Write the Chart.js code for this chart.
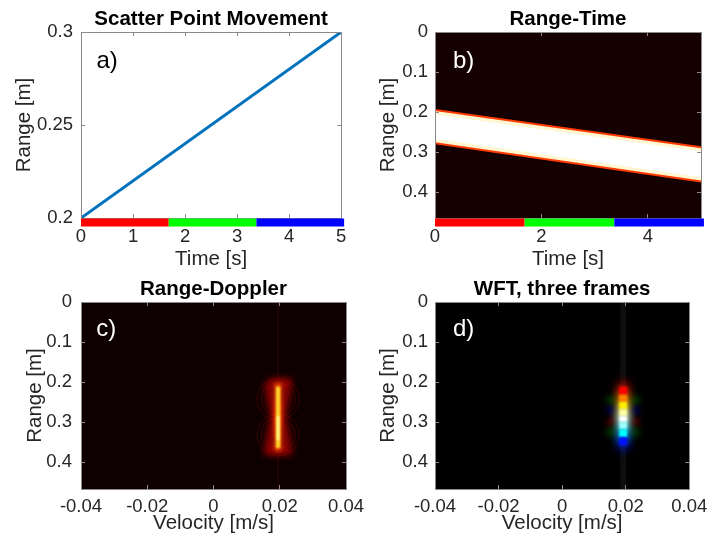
<!DOCTYPE html>
<html>
<head>
<meta charset="utf-8">
<script src="https://cdn.jsdelivr.net/npm/chart.js@4/dist/chart.umd.min.js"></script>
<style>
html, body { margin:0; padding:0; background:#fff; overflow:hidden; }
#fig { position:relative; width:720px; height:548px; }
#fig canvas { position:absolute; }
</style>
</head>
<body>
<div id="fig">
	<canvas id="pa" width="360" height="270" style="left:0;top:0"></canvas>
	<canvas id="pb" width="360" height="270" style="left:360px;top:0"></canvas>
	<canvas id="pd" width="360" height="278" style="left:360px;top:270px"></canvas>
	<canvas id="pc" width="380" height="278" style="left:0;top:270px"></canvas>
</div>
<script>
// a) scatter point movement
var moveTime = [0, 5];
var moveRange = [0.2, 0.3];
var timeTicksA = [0, 1, 2, 3, 4, 5];
var rangeTicksA = [0.2, 0.25, 0.3];
// frames shown as coloured bar under the time axis
var frameEdges = [0, 1.685, 3.37, 5.055];
var frameColors = ['#ff0000', '#00ff00', '#0000ff'];
// b) range-time band
var rtTime = [0, 5];
var rtEdgeTop = [0.195, 0.288];
var rtEdgeBottom = [0.278, 0.374];
var rtCoreTop = [0.206, 0.299];
var rtCoreBottom = [0.267, 0.363];
var timeTicksB = [0, 2, 4];
var rangeTicks = [0, 0.1, 0.2, 0.3, 0.4];
// c) range-doppler
var velTicks = [-0.04, -0.02, 0, 0.02, 0.04];
var rdGhostV = [0.0195, 0.0195];
var rdGhostR = [0, 0.4675];
var rdGlowV = [0.0167, 0.0223, 0.0204, 0.0223, 0.0167, 0.0186, 0.0167];
var rdGlowR = [0.202, 0.202, 0.287, 0.372, 0.372, 0.287, 0.202];
var rdOuterV = [0.0195, 0.0195];
var rdOuterR = [0.203, 0.372];
var rdCoreV = [0.0195, 0.0195];
var rdCoreR = [0.212, 0.365];
var rdHotV = [0.0195, 0.0195];
var rdHotR = [0.285, 0.345];
var rdRingV = [0.0195, 0.0195, 0.0195, 0.0195, 0.0195, 0.0195, 0.0195, 0.0195, 0.0195, 0.0195];
var rdRingR = [0.243, 0.243, 0.243, 0.243, 0.243, 0.332, 0.332, 0.332, 0.332, 0.332];
// d) WFT, three frames
var wftGhostV = [0.0192, 0.0192];
var wftGhostR = [0, 0.4675];
var wftCoreV = [0.0192, 0.0192, 0.0192, 0.0192, 0.0192, 0.0192, 0.0192, 0.0192, 0.0192];
var wftCoreR = [0.212, 0.232, 0.25, 0.268, 0.285, 0.3, 0.318, 0.338, 0.358];
var wftSideV = [0.0152, 0.0232, 0.0152, 0.0232, 0.0152, 0.0232, 0.0152, 0.0232];
var wftSideR = [0.245, 0.245, 0.27, 0.27, 0.3, 0.3, 0.325, 0.325];

var wftColors = ['#ff0000', '#ff8000', '#ffee00', '#ffffa0', '#ffffff', '#a0ffff', '#00ffff', '#0010ff'];
var wftSideColors = ['#007000', '#007000', '#000090', '#000090', '#900000', '#900000', '#007000', '#007000'];

var fontFamily = "'Liberation Sans', Arial, Helvetica, sans-serif";
var textColor = '#262626';
var boxColor = '#8a8a8a';
var tickLen = -4;

function pts(xs, ys) {
	return xs.map(function (x, i) { return {x: x, y: ys[i]}; });
}
function setTicks(list) {
	return function (scale) {
		scale.ticks = list.map(function (v) { return {value: v}; });
	};
}
function inward() {
	return {drawOnChartArea: false, drawTicks: true, tickLength: tickLen, color: boxColor, z: 1};
}
//plot area background (heat map floor)
var areaBgPlugin = {
	id: 'areaBg',
	beforeDraw: function (chart, args, opts) {
		if (!opts.color) return;
		var a = chart.chartArea;
		chart.ctx.fillStyle = opts.color;
		chart.ctx.fillRect(a.left, a.top, a.right - a.left, a.bottom - a.top);
	}
};
//soft glow for single datasets
var blurPlugin = {
	id: 'blur',
	beforeDatasetDraw: function (chart, args) {
		var b = chart.data.datasets[args.index].blur;
		if (b) {
			chart.ctx.save();
			chart.ctx.filter = 'blur(' + b + 'px)';
		}
	},
	afterDatasetDraw: function (chart, args) {
		if (chart.data.datasets[args.index].blur) chart.ctx.restore();
	}
};
var frameBarPlugin = {
	id: 'frameBar',
	afterDraw: function (chart, args, opts) {
		if (!opts.edges) return;
		var ctx = chart.ctx, xs = chart.scales.x, top = chart.chartArea.bottom + 0.5;
		for (var i = 0; i < opts.colors.length; i++) {
			var x0 = xs.getPixelForValue(opts.edges[i]);
			var x1 = xs.getPixelForValue(opts.edges[i + 1]);
			ctx.fillStyle = opts.colors[i];
			ctx.fillRect(x0, top, x1 - x0, 8);
		}
	}
};
var panelLabelPlugin = {
	id: 'panelLabel',
	afterDraw: function (chart, args, opts) {
		var ctx = chart.ctx, a = chart.chartArea;
		ctx.save();
		ctx.font = '24px ' + fontFamily;
		ctx.fillStyle = opts.color;
		ctx.textBaseline = 'alphabetic';
		ctx.fillText(opts.text, a.left + opts.dx, a.top + opts.dy);
		ctx.restore();
	}
};

function buildScales(p) {
	var tickFont = {family: fontFamily, size: 18.5, lineHeight: 1};
	var labelFont = {family: fontFamily, size: 20.5, lineHeight: 1};
	return {
		x: {
			type: 'linear', position: 'bottom', min: p.xMin, max: p.xMax,
			afterBuildTicks: setTicks(p.xTicks),
			afterFit: function (s) { s.height = p.h - p.bottom; },
			grid: inward(), border: {color: boxColor, z: 1},
			ticks: {autoSkip: false, maxRotation: 0, padding: p.xGap - tickLen, color: textColor, font: tickFont,
				callback: function (v) { return String(v); }},
			title: {display: true, text: p.xLabel, color: textColor, font: labelFont, padding: {top: 0, bottom: p.xLabelPad}}
		},
		xTop: {
			type: 'linear', position: 'top', min: p.xMin, max: p.xMax,
			afterBuildTicks: setTicks(p.xTicks),
			afterFit: function (s) { s.height = p.top; },
			grid: inward(), border: {color: boxColor, z: 1},
			ticks: {display: false},
			title: {display: true, text: p.title, color: '#000',
				font: {family: fontFamily, size: 20.5, weight: 'bold', lineHeight: 1}, padding: {top: 9, bottom: 0}}
		},
		y: {
			type: 'linear', position: 'left', min: p.yMin, max: p.yMax, reverse: p.reverse,
			afterBuildTicks: setTicks(p.yTicks),
			afterFit: function (s) { s.width = p.left; },
			grid: inward(), border: {color: boxColor, z: 1},
			ticks: {autoSkip: false, padding: p.yGap - tickLen, color: textColor, font: tickFont,
				callback: function (v) { return String(v); }},
			title: {display: true, text: 'Range [m]', color: textColor, font: labelFont, padding: {top: p.yLabelPad, bottom: 0}}
		},
		yRight: {
			type: 'linear', position: 'right', min: p.yMin, max: p.yMax, reverse: p.reverse,
			afterBuildTicks: setTicks(p.yTicks),
			afterFit: function (s) { s.width = p.w - p.right; },
			grid: inward(), border: {color: boxColor, z: 1},
			ticks: {display: false}
		}
	};
}

function makePanel(id, p, datasets) {
	return new Chart(document.getElementById(id), {
		type: 'line',
		data: {datasets: datasets},
		options: {
			responsive: false,
			animation: false,
			events: [],
			layout: {padding: 0, autoPadding: false},
			plugins: {
				legend: {display: false},
				tooltip: {enabled: false},
				areaBg: {color: p.bg},
				frameBar: p.frames || {},
				panelLabel: p.label
			},
			scales: buildScales(p)
		},
		plugins: [areaBgPlugin, blurPlugin, frameBarPlugin, panelLabelPlugin]
	});
}

function vline(xs, ys, color, width, blur) {
	return {data: pts(xs, ys), borderColor: color, borderWidth: width, pointRadius: 0, borderCapStyle: 'butt', blur: blur || 0};
}

// a)
makePanel('pa', {
	w: 360, h: 270, left: 81, right: 346, top: 32, bottom: 218,
	xMin: 0, xMax: 5, xTicks: timeTicksA, yMin: 0.2, yMax: 0.3, yTicks: rangeTicksA, reverse: false,
	xGap: 9.6, yGap: 8, xLabelPad: 0, yLabelPad: 13.7,
	xLabel: 'Time [s]', title: 'Scatter Point Movement',
	frames: {edges: frameEdges, colors: frameColors},
	label: {text: 'a)', color: '#000', dx: 15.5, dy: 35.5}
}, [
	{data: pts(moveTime, moveRange), borderColor: '#0072bd', borderWidth: 3, pointRadius: 0}
]);

// b) datasets listed top-most first
makePanel('pb', {
	w: 360, h: 270, left: 75, right: 341, top: 32, bottom: 218,
	xMin: 0, xMax: 5, xTicks: timeTicksB, yMin: 0, yMax: 0.465, yTicks: rangeTicks, reverse: true,
	xGap: 9.6, yGap: 7, xLabelPad: 0, yLabelPad: 18.4,
	xLabel: 'Time [s]', title: 'Range-Time', bg: '#140000',
	frames: {edges: frameEdges, colors: frameColors},
	label: {text: 'b)', color: '#fff', dx: 18, dy: 35.5}
}, [
	{data: pts(rtTime, rtCoreTop), borderWidth: 0, pointRadius: 0},
	{data: pts(rtTime, rtCoreBottom), borderWidth: 0, pointRadius: 0, fill: '-1', backgroundColor: '#ffffff'},
	{data: pts(rtTime, rtEdgeTop), borderColor: '#ff3a00', borderWidth: 2, pointRadius: 0},
	{data: pts(rtTime, rtEdgeBottom), borderColor: '#ff3a00', borderWidth: 2, pointRadius: 0, fill: '-1', backgroundColor: '#fff7d2'}
]);

// c)
makePanel('pc', {
	w: 380, h: 278, left: 81, right: 346, top: 32, bottom: 219,
	xMin: -0.04, xMax: 0.04, xTicks: velTicks, yMin: 0, yMax: 0.4675, yTicks: rangeTicks, reverse: true,
	xGap: 8.7, yGap: 9, xLabelPad: 14.8, yLabelPad: 24.7,
	xLabel: 'Velocity [m/s]', title: 'Range-Doppler', bg: '#0e0000',
	label: {text: 'c)', color: '#fff', dx: 15.3, dy: 34.4}
}, [
	vline(rdHotV, rdHotR, '#ffffb0', 2, 0.8),
	vline(rdCoreV, rdCoreR, '#ffe030', 4, 0.8),
	vline(rdOuterV, rdOuterR, '#ff5000', 7, 2),
	vline(rdGlowV, rdGlowR, '#a00000', 8, 3.5),
	{data: pts(rdRingV, rdRingR), showLine: false, pointRadius: [5, 9, 13, 17, 21, 5, 9, 13, 17, 21],
		pointBackgroundColor: 'rgba(0,0,0,0)', pointBorderColor: 'rgba(110,0,0,0.45)', pointBorderWidth: 1},
	vline(rdGhostV, rdGhostR, '#2a0000', 1.5)
]);

// d)
makePanel('pd', {
	w: 360, h: 278, left: 75, right: 340, top: 32, bottom: 219,
	xMin: -0.04, xMax: 0.04, xTicks: velTicks, yMin: 0, yMax: 0.4675, yTicks: rangeTicks, reverse: true,
	xGap: 8.7, yGap: 7, xLabelPad: 14.8, yLabelPad: 18.4,
	xLabel: 'Velocity [m/s]', title: 'WFT, three frames', bg: '#000000',
	label: {text: 'd)', color: '#fff', dx: 18, dy: 34.4}
}, [
	{data: pts(wftSideV, wftSideR), showLine: false, pointRadius: 3, pointBorderWidth: 0,
		pointBackgroundColor: wftSideColors, blur: 3},
	{data: pts(wftCoreV, wftCoreR), borderWidth: 8, pointRadius: 0, borderCapStyle: 'butt', blur: 1.3,
		segment: {borderColor: function (c) { return wftColors[c.p0DataIndex]; }}},
	{data: pts(wftCoreV, wftCoreR), borderWidth: 13, pointRadius: 0, borderCapStyle: 'round', blur: 4,
		segment: {borderColor: function (c) { return wftColors[c.p0DataIndex] + '80'; }}},
	vline(wftGhostV, wftGhostR, '#0e0e0e', 6)
]);
</script>
</body>
</html>
